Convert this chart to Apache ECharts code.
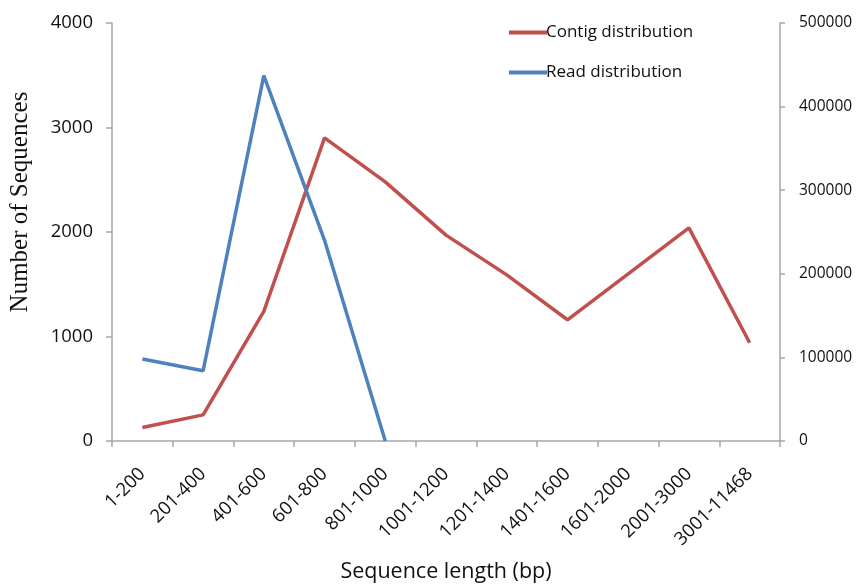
<!DOCTYPE html>
<html><head><meta charset="utf-8">
<script src="https://cdn.jsdelivr.net/npm/echarts@6/dist/echarts.min.js"></script>
<style>html,body{margin:0;padding:0;background:#fff}#c{width:863px;height:584px}</style>
</head><body><div id="c"></div>
<script>
const categories = ['1-200','201-400','401-600','601-800','801-1000','1001-1200','1201-1400','1401-1600','1601-2000','2001-3000','3001-11468'];
const contigValues = [130, 250, 1240, 2900, 2480, 1970, 1590, 1160, 1600, 2040, 940];
const readValues = [98000, 84000, 437000, 240000, 0, null, null, null, null, null, null];
const leftTicks = {min: 0, max: 4000, interval: 1000};
const rightTicks = {min: 0, max: 500000, interval: 100000};

const font = 'Open Sans';
const axisColor = '#a6a6a6';
const plain = v => String(v);
const chart = echarts.init(document.getElementById('c'), null, {renderer: 'canvas'});
chart.setOption({
  animation: false,
  backgroundColor: '#fff',
  grid: {left: 112, right: 83, top: 23, bottom: 143, containLabel: false, outerBoundsMode: 'none'},
  legend: {
    orient: 'vertical', left: 504, top: 19, itemGap: 23,
    itemWidth: 38, itemHeight: 4, icon: 'rect',
    textStyle: {fontFamily: font, fontSize: 17, color: '#111', padding: [0,0,0,-6]},
    data: ['Contig distribution', 'Read distribution']
  },
  xAxis: {
    type: 'category', data: categories, boundaryGap: true,
    name: 'Sequence length (bp)', nameLocation: 'middle', nameGap: 120,
    nameTextStyle: {fontFamily: font, fontSize: 21.5, color: '#111'},
    axisLine: {lineStyle: {color: axisColor, width: 1.5}},
    axisTick: {show: true, length: 6, alignWithLabel: false, lineStyle: {color: axisColor, width: 1.5}},
    axisLabel: {rotate: 45, fontFamily: font, fontSize: 18.5, color: '#111', margin: 30, interval: 0},
    splitLine: {show: false}
  },
  yAxis: [{
    type: 'value', position: 'left', min: leftTicks.min, max: leftTicks.max, interval: leftTicks.interval,
    name: 'Number of Sequences', nameLocation: 'middle', nameGap: 79, nameRotate: 90,
    nameTextStyle: {fontFamily: 'Liberation Serif', fontSize: 25, color: '#111', padding: [0, 0, 0, 60]},
    axisLine: {show: true, lineStyle: {color: axisColor, width: 1.5}},
    axisTick: {show: true, length: 6, lineStyle: {color: axisColor, width: 1.5}},
    axisLabel: {fontFamily: font, fontSize: 18.5, color: '#111', margin: 19, formatter: plain},
    splitLine: {show: false}
  }, {
    type: 'value', position: 'right', min: rightTicks.min, max: rightTicks.max, interval: rightTicks.interval,
    axisLine: {show: true, lineStyle: {color: axisColor, width: 1.5}},
    axisTick: {show: true, length: 5, lineStyle: {color: axisColor, width: 1.5}},
    axisLabel: {fontFamily: font, fontSize: 15.5, color: '#111', margin: 19, formatter: plain},
    splitLine: {show: false}
  }],
  series: [{
    name: 'Contig distribution', type: 'line', yAxisIndex: 0, data: contigValues,
    showSymbol: false, symbol: 'none', color: '#C0504D',
    lineStyle: {color: '#C0504D', width: 3.5}
  }, {
    name: 'Read distribution', type: 'line', yAxisIndex: 1, data: readValues,
    showSymbol: false, symbol: 'none', color: '#4F81BD',
    lineStyle: {color: '#4F81BD', width: 3.5}
  }]
});
</script></body></html>
